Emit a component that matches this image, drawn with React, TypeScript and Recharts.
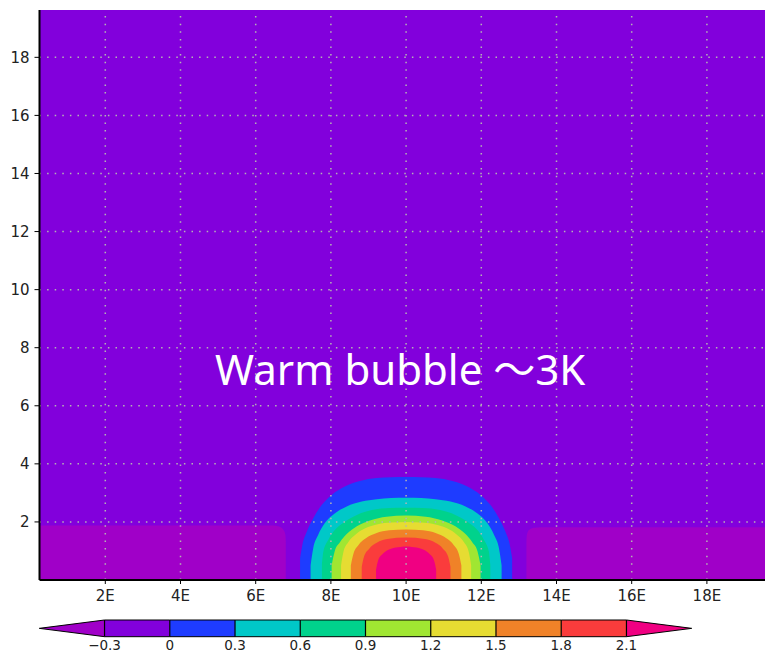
import {
  Area,
  CartesianGrid,
  ComposedChart,
  Label,
  ReferenceDot,
  ReferenceLine,
  XAxis,
  YAxis,
} from 'recharts'

type Pt = { x: number; y: number }

const X_TICKS = [2, 4, 6, 8, 10, 12, 14, 16, 18]
const X_TICK_LABELS = ['2E', '4E', '6E', '8E', '10E', '12E', '14E', '16E', '18E']
const Y_TICKS = [2, 4, 6, 8, 10, 12, 14, 16, 18]

// contour levels and the GrADS rainbow shades between them (first/last = open ends)
const LEVELS = [-0.3, 0, 0.3, 0.6, 0.9, 1.2, 1.5, 1.8, 2.1]
const LEVEL_LABELS = ['−0.3', '0', '0.3', '0.6', '0.9', '1.2', '1.5', '1.8', '2.1']
const SHADES = [
  '#a000c8',
  '#8200dc',
  '#1e3cff',
  '#00c8c8',
  '#00d28c',
  '#a0e632',
  '#e6dc32',
  '#f08228',
  '#fa3c3c',
  '#f00082',
]

// below -0.3 patches either side of the bubble
const LOW_WEST: Pt[] = [
  { x: 0.25, y: 1.88 },
  { x: 6.45, y: 1.88 },
  { x: 6.62, y: 1.84 },
  { x: 6.73, y: 1.74 },
  { x: 6.79, y: 1.56 },
  { x: 6.8, y: 1.3 },
]
const LOW_EAST: Pt[] = [
  { x: 13.2, y: 1.3 },
  { x: 13.21, y: 1.55 },
  { x: 13.27, y: 1.72 },
  { x: 13.4, y: 1.8 },
  { x: 13.6, y: 1.82 },
  { x: 19.75, y: 1.82 },
]

// upper edge of each closed contour of the bubble
const C000: Pt[] = [
  { x: 7.18, y: 0.75 },
  { x: 7.24, y: 1.2 },
  { x: 7.36, y: 1.67 },
  { x: 7.53, y: 2.13 },
  { x: 7.76, y: 2.59 },
  { x: 8.02, y: 2.93 },
  { x: 8.37, y: 3.22 },
  { x: 8.77, y: 3.41 },
  { x: 9.22, y: 3.51 },
  { x: 9.6, y: 3.54 },
  { x: 10.0, y: 3.55 },
  { x: 10.4, y: 3.54 },
  { x: 10.78, y: 3.51 },
  { x: 11.23, y: 3.41 },
  { x: 11.63, y: 3.22 },
  { x: 11.98, y: 2.93 },
  { x: 12.24, y: 2.59 },
  { x: 12.47, y: 2.13 },
  { x: 12.64, y: 1.67 },
  { x: 12.76, y: 1.2 },
  { x: 12.82, y: 0.75 },
]
const C030: Pt[] = [
  { x: 7.46, y: 0.5 },
  { x: 7.53, y: 1.09 },
  { x: 7.66, y: 1.55 },
  { x: 7.84, y: 1.96 },
  { x: 8.11, y: 2.3 },
  { x: 8.42, y: 2.53 },
  { x: 8.82, y: 2.7 },
  { x: 9.22, y: 2.78 },
  { x: 9.6, y: 2.82 },
  { x: 10.0, y: 2.83 },
  { x: 10.4, y: 2.82 },
  { x: 10.78, y: 2.78 },
  { x: 11.18, y: 2.7 },
  { x: 11.58, y: 2.53 },
  { x: 11.89, y: 2.3 },
  { x: 12.16, y: 1.96 },
  { x: 12.34, y: 1.55 },
  { x: 12.47, y: 1.09 },
  { x: 12.54, y: 0.5 },
]
const C060: Pt[] = [
  { x: 7.76, y: 0.5 },
  { x: 7.8, y: 0.98 },
  { x: 7.93, y: 1.38 },
  { x: 8.11, y: 1.73 },
  { x: 8.37, y: 2.01 },
  { x: 8.69, y: 2.24 },
  { x: 9.09, y: 2.41 },
  { x: 9.57, y: 2.48 },
  { x: 10.0, y: 2.49 },
  { x: 10.43, y: 2.48 },
  { x: 10.91, y: 2.41 },
  { x: 11.31, y: 2.24 },
  { x: 11.63, y: 2.01 },
  { x: 11.89, y: 1.73 },
  { x: 12.07, y: 1.38 },
  { x: 12.2, y: 0.98 },
  { x: 12.24, y: 0.5 },
]
const C090: Pt[] = [
  { x: 8.02, y: 0.5 },
  { x: 8.1, y: 0.98 },
  { x: 8.24, y: 1.3 },
  { x: 8.42, y: 1.58 },
  { x: 8.69, y: 1.85 },
  { x: 9.04, y: 2.05 },
  { x: 9.48, y: 2.18 },
  { x: 10.0, y: 2.22 },
  { x: 10.52, y: 2.18 },
  { x: 10.96, y: 2.05 },
  { x: 11.31, y: 1.85 },
  { x: 11.58, y: 1.58 },
  { x: 11.76, y: 1.3 },
  { x: 11.9, y: 0.98 },
  { x: 11.98, y: 0.5 },
]
const C120: Pt[] = [
  { x: 8.27, y: 0.5 },
  { x: 8.33, y: 0.95 },
  { x: 8.46, y: 1.3 },
  { x: 8.65, y: 1.56 },
  { x: 8.9, y: 1.77 },
  { x: 9.25, y: 1.92 },
  { x: 9.6, y: 1.98 },
  { x: 10.0, y: 2.0 },
  { x: 10.4, y: 1.98 },
  { x: 10.75, y: 1.92 },
  { x: 11.1, y: 1.77 },
  { x: 11.35, y: 1.56 },
  { x: 11.54, y: 1.3 },
  { x: 11.67, y: 0.95 },
  { x: 11.73, y: 0.5 },
]
const C150: Pt[] = [
  { x: 8.53, y: 0.5 },
  { x: 8.6, y: 0.9 },
  { x: 8.73, y: 1.2 },
  { x: 8.93, y: 1.44 },
  { x: 9.2, y: 1.61 },
  { x: 9.55, y: 1.71 },
  { x: 10.0, y: 1.74 },
  { x: 10.45, y: 1.71 },
  { x: 10.8, y: 1.61 },
  { x: 11.07, y: 1.44 },
  { x: 11.27, y: 1.2 },
  { x: 11.4, y: 0.9 },
  { x: 11.47, y: 0.5 },
]
const C180: Pt[] = [
  { x: 8.82, y: 0.45 },
  { x: 8.88, y: 0.8 },
  { x: 9.02, y: 1.08 },
  { x: 9.22, y: 1.28 },
  { x: 9.5, y: 1.41 },
  { x: 10.0, y: 1.46 },
  { x: 10.5, y: 1.41 },
  { x: 10.78, y: 1.28 },
  { x: 10.98, y: 1.08 },
  { x: 11.12, y: 0.8 },
  { x: 11.18, y: 0.45 },
]
const C210: Pt[] = [
  { x: 9.2, y: 0.35 },
  { x: 9.25, y: 0.65 },
  { x: 9.38, y: 0.9 },
  { x: 9.6, y: 1.08 },
  { x: 9.85, y: 1.14 },
  { x: 10.0, y: 1.15 },
  { x: 10.15, y: 1.14 },
  { x: 10.4, y: 1.08 },
  { x: 10.62, y: 0.9 },
  { x: 10.75, y: 0.65 },
  { x: 10.8, y: 0.35 },
]

const BANDS = [
  { id: 'low-w', data: LOW_WEST, color: SHADES[0] },
  { id: 'low-e', data: LOW_EAST, color: SHADES[0] },
  { id: 'c000', data: C000, color: SHADES[2] },
  { id: 'c030', data: C030, color: SHADES[3] },
  { id: 'c060', data: C060, color: SHADES[4] },
  { id: 'c090', data: C090, color: SHADES[5] },
  { id: 'c120', data: C120, color: SHADES[6] },
  { id: 'c150', data: C150, color: SHADES[7] },
  { id: 'c180', data: C180, color: SHADES[8] },
  { id: 'c210', data: C210, color: SHADES[9] },
]

// colour bar: one range area per shade, open-ended triangles at both ends
const CBAR_EDGES = [-0.6, ...LEVELS, 2.4]
const CBAR_SEGMENTS = SHADES.map((color, i) => {
  const lo = CBAR_EDGES[i]
  const hi = CBAR_EDGES[i + 1]
  const tip = [0.5, 0.5]
  const full = [0, 1]
  const data =
    i === 0
      ? [{ x: lo, v: tip }, { x: hi, v: full }]
      : i === SHADES.length - 1
        ? [{ x: lo, v: full }, { x: hi, v: tip }]
        : [{ x: lo, v: full }, { x: hi, v: full }]
  return { id: `cb${i}`, color, data }
})

const FONT = "'DejaVu Sans', sans-serif"
const X_DOMAIN: [number, number] = [0.25, 19.75]
const Y_DOMAIN: [number, number] = [0, 19.63]

function Annotation({ viewBox }: any) {
  if (!viewBox) return null
  return (
    <text
      x={viewBox.x}
      y={viewBox.y}
      fill="#ffffff"
      fontSize={42}
      fontFamily="'Noto Sans', 'Noto Sans CJK JP', sans-serif"
    >
      Warm bubble ～3K
    </text>
  )
}

export default function App() {
  return (
    <div
      style={{
        position: 'fixed',
        left: 0,
        top: 0,
        width: 765,
        height: 653,
        overflow: 'hidden',
        background: '#fff',
      }}
    >
      <div style={{ position: 'absolute', left: 0, top: 0 }}>
        <ComposedChart width={780} height={653} margin={{ top: 10, right: 7.3, bottom: 33, left: 0 }}>
          <CartesianGrid horizontal={false} vertical={false} fill={SHADES[1]} />
          <XAxis
            dataKey="x"
            type="number"
            domain={X_DOMAIN}
            allowDataOverflow
            ticks={X_TICKS}
            interval={0}
            tickFormatter={(v: number) => X_TICK_LABELS[X_TICKS.indexOf(v)] ?? ''}
            height={40}
            axisLine={{ stroke: '#000', strokeWidth: 2 }}
            tickLine={{ stroke: '#000' }}
            tickSize={4}
            tickMargin={6}
            tick={{ fill: '#222', fontSize: 15, fontFamily: FONT }}
          />
          <XAxis
            xAxisId="top"
            orientation="top"
            type="number"
            domain={X_DOMAIN}
            allowDataOverflow
            height={0}
            tick={false}
            tickLine={false}
            axisLine={{ stroke: '#333', strokeWidth: 2 }}
          />
          <YAxis
            type="number"
            domain={Y_DOMAIN}
            allowDataOverflow
            ticks={Y_TICKS}
            interval={0}
            width={39.5}
            axisLine={{ stroke: '#000', strokeWidth: 2 }}
            tickLine={{ stroke: '#000' }}
            tickSize={5}
            tickMargin={5}
            tick={{ fill: '#222', fontSize: 15, fontFamily: FONT }}
          />
          {BANDS.map((b) => (
            <Area
              key={b.id}
              data={b.data}
              dataKey="y"
              type="monotone"
              fill={b.color}
              fillOpacity={1}
              stroke="none"
              isAnimationActive={false}
              dot={false}
              activeDot={false}
            />
          ))}
          {X_TICKS.map((v) => (
            <ReferenceLine
              key={`gx${v}`}
              x={v}
              stroke="#b4b4b4"
              strokeWidth={1.5}
              strokeDasharray="1.5 6.1"
            />
          ))}
          {Y_TICKS.map((v) => (
            <ReferenceLine
              key={`gy${v}`}
              y={v}
              stroke="#b4b4b4"
              strokeWidth={1.5}
              strokeDasharray="1.5 6.1"
            />
          ))}
          <ReferenceDot x={4.92} y={6.72} r={0} fill="none" stroke="none">
            <Label content={Annotation} />
          </ReferenceDot>
        </ComposedChart>
      </div>
      <div style={{ position: 'absolute', left: 0, top: 612 }}>
        <ComposedChart
          width={765}
          height={48}
          margin={{ top: 8, right: 73.3, bottom: 0, left: 39.3 }}
        >
          <XAxis
            dataKey="x"
            type="number"
            domain={[CBAR_EDGES[0], CBAR_EDGES[CBAR_EDGES.length - 1]]}
            ticks={LEVELS}
            interval={0}
            tickFormatter={(v: number) => LEVEL_LABELS[LEVELS.indexOf(v)] ?? ''}
            height={23.3}
            axisLine={false}
            tickLine={false}
            tickSize={0}
            tickMargin={4}
            tick={{ fill: '#222', fontSize: 13.5, fontFamily: FONT }}
          />
          <YAxis type="number" domain={[0, 1]} hide />
          {CBAR_SEGMENTS.map((s) => (
            <Area
              key={s.id}
              data={s.data}
              dataKey="v"
              type="linear"
              fill={s.color}
              fillOpacity={1}
              stroke="#000"
              strokeWidth={1}
              isAnimationActive={false}
              dot={false}
              activeDot={false}
            />
          ))}
          {LEVELS.map((v) => (
            <ReferenceLine key={`cl${v}`} x={v} stroke="#000" strokeWidth={1.2} />
          ))}
        </ComposedChart>
      </div>
    </div>
  )
}
